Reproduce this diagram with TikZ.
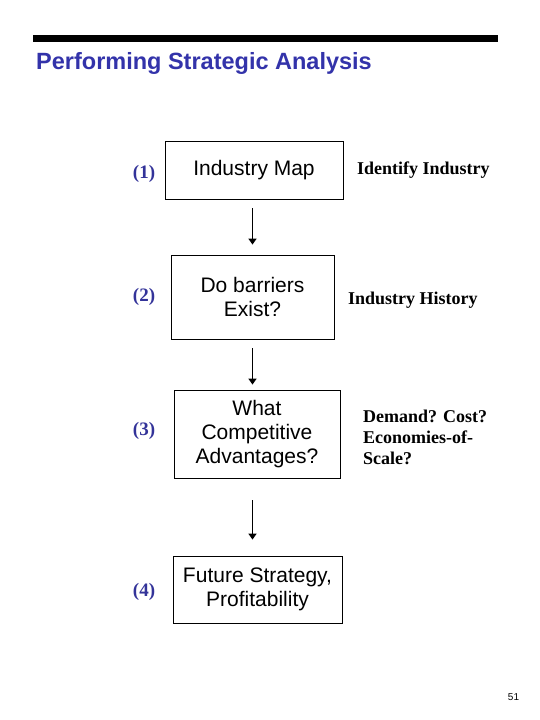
\documentclass[tikz,border=0pt]{standalone}
\usepackage{fontspec}
\setmainfont{Liberation Serif}
\setsansfont{Liberation Sans}
\usetikzlibrary{arrows.meta}

\definecolor{titleblue}{RGB}{51,51,170}
\definecolor{numblue}{RGB}{51,51,153}

\tikzset{
  stepbox/.style={draw, thick, align=center, inner sep=0pt,
    font=\sffamily\fontsize{21}{24}\selectfont},
  numlabel/.style={text=numblue, font=\bfseries\fontsize{19}{22}\selectfont},
  sidelabel/.style={anchor=west, align=left, inner sep=0pt,
    font=\bfseries\fontsize{18}{21}\selectfont},
  flow/.style={-{Triangle[length=6pt,width=8pt]}, line width=1.8pt}
}

\begin{document}
\begin{tikzpicture}[x=1pt, y=-1pt]
        \useasboundingbox (0,0) rectangle (540,720);

        % Title bar
        \fill[black] (33,35) rectangle (498,42);
        \node[anchor=base west, inner sep=0pt, text=titleblue,
          font=\sffamily\bfseries\fontsize{23.5}{26}\selectfont] (title) at (36,69)
          {Performing Strategic Analysis};

        % Steps
        \node[stepbox, minimum width=178pt, minimum height=58pt] (map) at (254,170) {Industry Map};
        \node[stepbox, minimum width=163pt, minimum height=84pt] (barriers) at (252.5,297) {Do barriers\\Exist?};
        \node[stepbox, minimum width=166pt, minimum height=88pt] (advantages) at (257,434) {What\\Competitive\\Advantages?};
        \node[stepbox, minimum width=169pt, minimum height=67pt] (future) at (257.5,589.5) {Future Strategy,\\Profitability};

        % Step numbers
        \node[numlabel] (n1) at (144,174) {(1)};
        \node[numlabel] (n2) at (144,297) {(2)};
        \node[numlabel] (n3) at (144,431) {(3)};
        \node[numlabel] (n4) at (144,592) {(4)};

        % Notes on the right
        \node[sidelabel] (identify) at (357,170) {Identify Industry};
        \node[sidelabel] (history) at (348,300) {Industry History};
        \node[sidelabel] (demand) at (363,437) {Demand? Cost?\\Economies-of-\\Scale?};

        % Arrows
        \draw[flow, shorten <=9pt, shorten >=10pt] (map.south -| barriers.north) -- (barriers.north);
        \draw[flow, shorten <=9pt, shorten >=5pt] (barriers.south) -- (barriers.south |- advantages.north);
        \draw[flow, shorten <=22pt, shorten >=16pt] (advantages.south -| barriers.south) -- (barriers.south |- future.north);

        % Page number
        \node[font=\sffamily\fontsize{10}{12}\selectfont] (page) at (513.5,697) {51};
\end{tikzpicture}
\end{document}
